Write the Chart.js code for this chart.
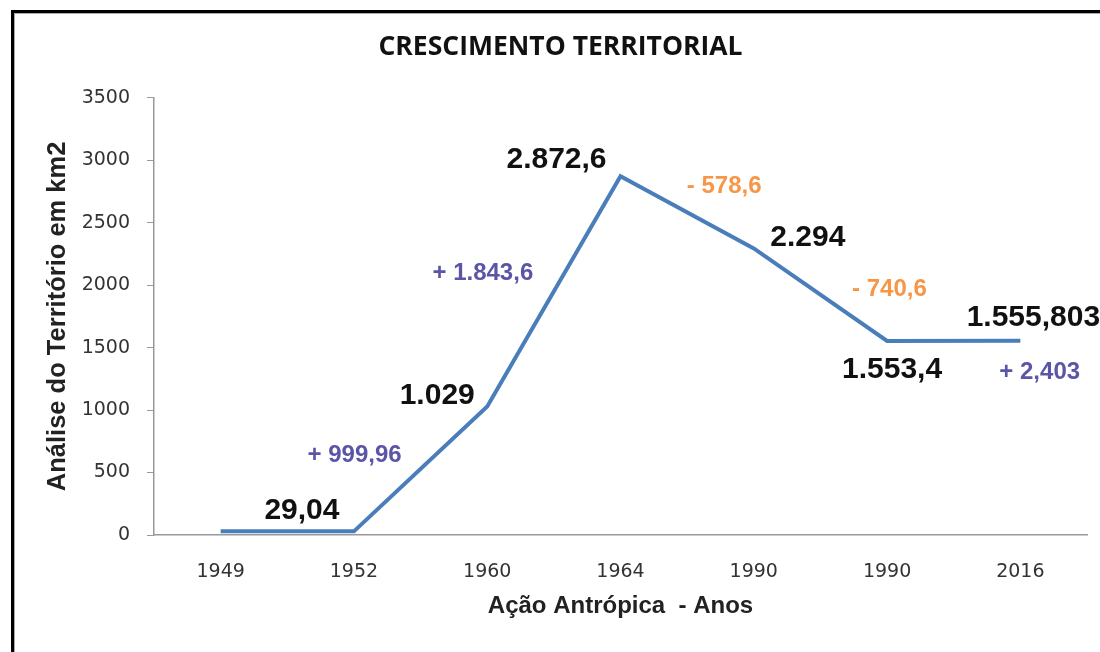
<!DOCTYPE html>
<html lang="pt">
<head>
    <meta charset="UTF-8">
    <title>Crescimento Territorial</title>
    <script src="https://cdn.jsdelivr.net/npm/chart.js"></script>
    <style>
        html, body { margin: 0; padding: 0; background: #fff; overflow: hidden; }
        #wrap { position: relative; width: 1100px; height: 652px; overflow: hidden; }
        #frame {
            position: absolute; left: 11px; top: 10px; width: 1300px; height: 800px;
            border-left: 3px solid #000; border-top: 3px solid #000;
            box-shadow: inset 1px 1px 0 #aaa;
        }
        canvas { position: absolute; left: 0; top: 0; }
    </style>
</head>
<body>
<div id="wrap">
    <div id="frame"></div>
    <canvas id="areaChart" width="1100" height="652"></canvas>
</div>

<script>
    const anos = ["1949", "1952", "1960", "1964", "1990", "1990", "2016"];
    const area = [29.04, 29.04, 1029, 2872.6, 2294, 1553.4, 1555.803];
    const yTicks = [0, 500, 1000, 1500, 2000, 2500, 3000, 3500];

    // where each value label sits, relative to its point (null = no label)
    const valueOffsets = [null, [-52, -21], [-50, -11], [-64, -16], [54, -11], [5, 29], [13, -23]];
    // where each change label sits, relative to the middle of the segment ending at that point
    const deltaOffsets = [null, null, [-66, -14], [-71, -18], [37, -26], [69, -5], [86, 32]];

    function fmtBR(v) {
        const neg = v < 0;
        v = Math.round(Math.abs(v) * 1000) / 1000;
        let [intPart, dec] = String(v).split(".");
        intPart = intPart.replace(/\B(?=(\d{3})+(?!\d))/g, ".");
        return (neg ? "-" : "") + intPart + (dec ? "," + dec : "");
    }

    const labelPlugin = {
        id: "pointLabels",
        afterDatasetsDraw(chart) {
            const ctx = chart.ctx;
            const pts = chart.getDatasetMeta(0).data;
            ctx.save();
            ctx.textAlign = "center";
            ctx.textBaseline = "middle";

            ctx.font = "bold 30px 'Liberation Sans', Arial, sans-serif";
            ctx.fillStyle = "#111";
            pts.forEach((p, i) => {
                const off = valueOffsets[i];
                if (!off) return;
                ctx.fillText(fmtBR(area[i]), p.x + off[0], p.y + off[1]);
            });

            ctx.font = "bold 24px 'Liberation Sans', Arial, sans-serif";
            pts.forEach((p, i) => {
                const off = deltaOffsets[i];
                if (!off) return;
                const prev = pts[i - 1];
                const d = Math.round((area[i] - area[i - 1]) * 1000) / 1000;
                const txt = (d >= 0 ? "+ " : "- ") + fmtBR(Math.abs(d));
                ctx.fillStyle = d >= 0 ? "#5a55a6" : "#f79646";
                ctx.fillText(txt, (p.x + prev.x) / 2 + off[0], (p.y + prev.y) / 2 + off[1]);
            });
            ctx.restore();
        }
    };

    const ctx = document.getElementById("areaChart").getContext("2d");
    new Chart(ctx, {
        type: "line",
        data: {
            labels: anos,
            datasets: [{
                data: area,
                borderColor: "#4a7ebb",
                borderWidth: 4,
                pointRadius: 0,
                tension: 0,
                fill: false
            }]
        },
        options: {
            responsive: false,
            animation: false,
            layout: { padding: { left: 34, right: 13, top: 0, bottom: 0 } },
            plugins: {
                legend: { display: false },
                tooltip: { enabled: false },
                title: {
                    display: true,
                    text: "CRESCIMENTO TERRITORIAL",
                    color: "#111",
                    font: { family: "'Open Sans', sans-serif", size: 26.5, weight: "bold" },
                    padding: { top: 32, bottom: 34 }
                }
            },
            scales: {
                x: {
                    offset: true,
                    grid: { display: true, drawOnChartArea: false, drawTicks: false },
                    border: { color: "#999", width: 1.5 },
                    ticks: {
                        color: "#333",
                        padding: 26,
                        font: { family: "'DejaVu Sans', sans-serif", size: 19 }
                    },
                    title: {
                        display: true,
                        text: "Ação Antrópica  - Anos",
                        color: "#222",
                        font: { family: "'Liberation Sans', Arial, sans-serif", size: 24, weight: "bold" },
                        padding: { top: 0, bottom: 31 }
                    },
                    afterFit(scale) { scale.height = 117; }
                },
                y: {
                    min: 0,
                    max: 3500,
                    afterBuildTicks(scale) { scale.ticks = yTicks.map(v => ({ value: v })); },
                    grid: { drawOnChartArea: false, drawTicks: true, tickLength: 7, color: "#999" },
                    border: { color: "#999", width: 1.5 },
                    ticks: {
                        color: "#333",
                        padding: 17,
                        font: { family: "'DejaVu Sans', sans-serif", size: 19 },
                        callback: v => String(v)
                    },
                    title: {
                        display: true,
                        text: "Análise do Território em km2",
                        color: "#222",
                        font: { family: "'Liberation Sans', Arial, sans-serif", size: 25.5, weight: "bold" },
                        padding: { top: 9, bottom: 0 }
                    },
                    afterFit(scale) { scale.width = 120; }
                }
            }
        },
        plugins: [labelPlugin]
    });
</script>
</body>
</html>
